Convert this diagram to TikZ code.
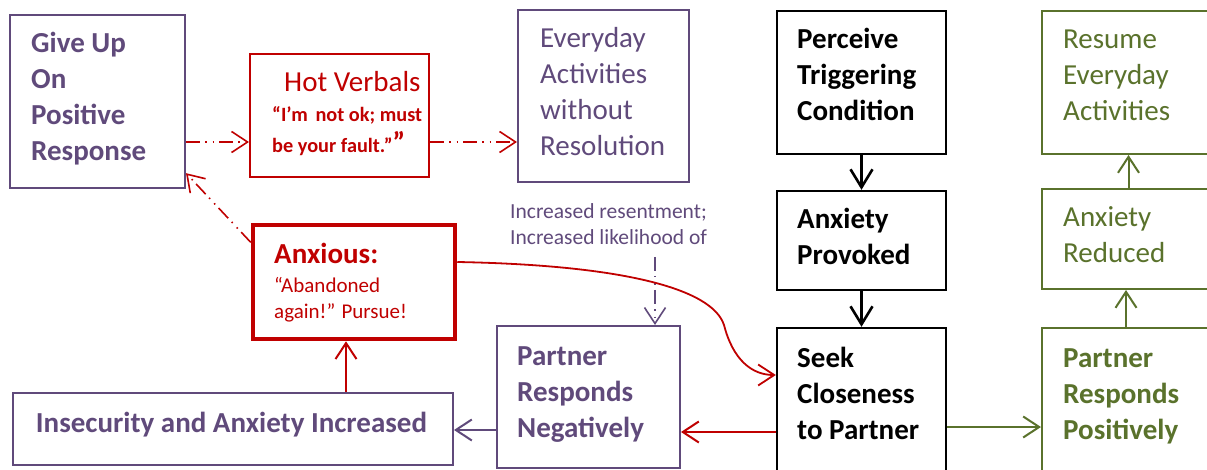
\documentclass[tikz,border=0pt]{standalone}
\usepackage{fontspec}
\setmainfont{Carlito}
\usetikzlibrary{arrows.meta}
\definecolor{pur}{RGB}{96,74,123}
\definecolor{myred}{RGB}{192,0,0}
\definecolor{grn}{RGB}{90,114,44}
\tikzset{
  box/.style={draw, line width=2pt, inner sep=0pt},
  purbox/.style={box, pur},
  redbox/.style={box, myred},
  blkbox/.style={box, black, line width=2.4pt},
  grnbox/.style={box, grn},
  txt/.style={inner sep=0pt, align=left, anchor=base west, font=\fontsize{29}{36}\selectfont},
  btxt/.style={txt, font=\fontsize{29}{36}\selectfont\bfseries},
  head/.style={-{Straight Barb[length=16pt,width=21pt]}},
  bighead/.style={-{Straight Barb[length=18pt,width=22pt]}},
  dd/.style={dash pattern=on 14pt off 5pt on 1.5pt off 6pt on 1.5pt off 5pt},
}
\begin{document}
\begin{tikzpicture}[x=1pt,y=-1pt]
\clip (0,0) rectangle (1207,470);
\fill[white] (0,0) rectangle (1207,470);
% boxes (text nodes anchored at the baseline of their last line)
\node[purbox, minimum width=175pt, minimum height=173pt] (giveup) at (97.5,101.5) {};
\node[btxt, text=pur] (giveupT) at (31,161) {Give Up\\On\\Positive\\Response};
\node[redbox, minimum width=179pt, minimum height=123pt] (hot) at (339.5,115.5) {};
\node[txt, text=myred] (hotT) at (284,92) {Hot Verbals};
\node[txt, text=myred, font=\fontsize{20.3}{31}\selectfont\bfseries] (hotQ) at (272,153) {“I’m\hspace{0.38em}not ok; must\\be your fault.”{\fontsize{29}{29}\selectfont ”}};
\node[purbox, minimum width=171pt, minimum height=172pt] (everyday) at (603.5,96) {};
\node[txt, text=pur] (everydayT) at (540,156) {Everyday\\Activities\\without\\Resolution};
\node[blkbox, minimum width=169pt, minimum height=143pt] (perceive) at (861.5,82.5) {};
\node[btxt] (perceiveT) at (797,121) {Perceive\\Triggering\\Condition};
\node[grnbox, minimum width=173pt, minimum height=143pt] (resume) at (1128.5,82.5) {};
\node[txt, text=grn] (resumeT) at (1063,121) {Resume\\Everyday\\Activities};
\node[blkbox, minimum width=169pt, minimum height=99pt] (provoked) at (861.5,240.5) {};
\node[btxt] (provokedT) at (797,265) {Anxiety\\Provoked};
\node[grnbox, minimum width=173pt, minimum height=100pt] (reduced) at (1128.5,239) {};
\node[txt, text=grn] (reducedT) at (1063,263) {Anxiety\\Reduced};
\node[blkbox, minimum width=169pt, minimum height=150pt] (seek) at (861.5,403) {};
\node[btxt] (seekT) at (797,439) {Seek\\Closeness\\to Partner};
\node[grnbox, minimum width=173pt, minimum height=150pt] (positive) at (1128.5,403) {};
\node[btxt, text=grn] (positiveT) at (1063,439) {Partner\\Responds\\Positively};
\node[purbox, minimum width=183pt, minimum height=142pt] (negative) at (588.5,397) {};
\node[btxt, text=pur] (negativeT) at (517,437) {Partner\\Responds\\Negatively};
\node[purbox, minimum width=440pt, minimum height=72pt] (insec) at (233,429) {};
\node[btxt, text=pur, anchor=base] (insecT) at (231.5,432) {Insecurity and Anxiety Increased};
\node[redbox, line width=4.5pt, minimum width=202pt, minimum height=114pt] (anxious) at (354,282) {};
\node[btxt, text=myred] (anxiousT) at (274,264) {Anxious:};
\node[txt, text=myred, font=\fontsize{21}{26}\selectfont] (anxiousQ) at (274,318) {“Abandoned\\again!” Pursue!};
\node[txt, text=pur, font=\fontsize{21.5}{26}\selectfont] (lbl) at (510,245) {Increased resentment;\\Increased likelihood of};
% connectors
\draw[black, line width=2.6pt, bighead] (perceive.south) -- (provoked.north);
\draw[black, line width=2.6pt, bighead] (provoked.south) -- (seek.north);
\draw[grn, line width=2pt, head] ([yshift=-24pt]seek.east) -- ([yshift=-24pt]positive.west);
\draw[grn, line width=2pt, head] ([xshift=-2.5pt]positive.north) -- ([xshift=-2.5pt]reduced.south);
\draw[grn, line width=2pt, head] (reduced.north) -- (resume.south);
\draw[myred, line width=2pt, head] ([yshift=-29pt]seek.west) -- ([yshift=-35pt]negative.east);
\draw[pur, line width=2pt, head] ([yshift=-33pt]negative.west) -- ([yshift=-1pt]insec.east);
\draw[myred, line width=2pt, head] ([xshift=113pt]insec.north) -- ([xshift=-8pt]anxious.south);
\draw[myred, line width=1.6pt, dd, head] (anxious.159) -- (giveup.-39);
\draw[myred, line width=1.6pt, dd, head] ([yshift=-40.5pt]giveup.east) -- ([yshift=-26.5pt]hot.west);
\draw[myred, line width=1.6pt, dd, head] ([yshift=-26.5pt]hot.east) -- ([yshift=-46pt]everyday.west);
\draw[pur, line width=1.6pt, dd, head] ([xshift=145pt,yshift=-12pt]lbl.base west) -- ([xshift=66.5pt]negative.north);
\draw[myred, line width=1.8pt, head] ([yshift=20pt]anxious.east) .. controls (620,265) and (712,288) .. (724,325)
  .. controls (733,360) and (752,375) .. ([yshift=28pt]seek.west);
\end{tikzpicture}
\end{document}
